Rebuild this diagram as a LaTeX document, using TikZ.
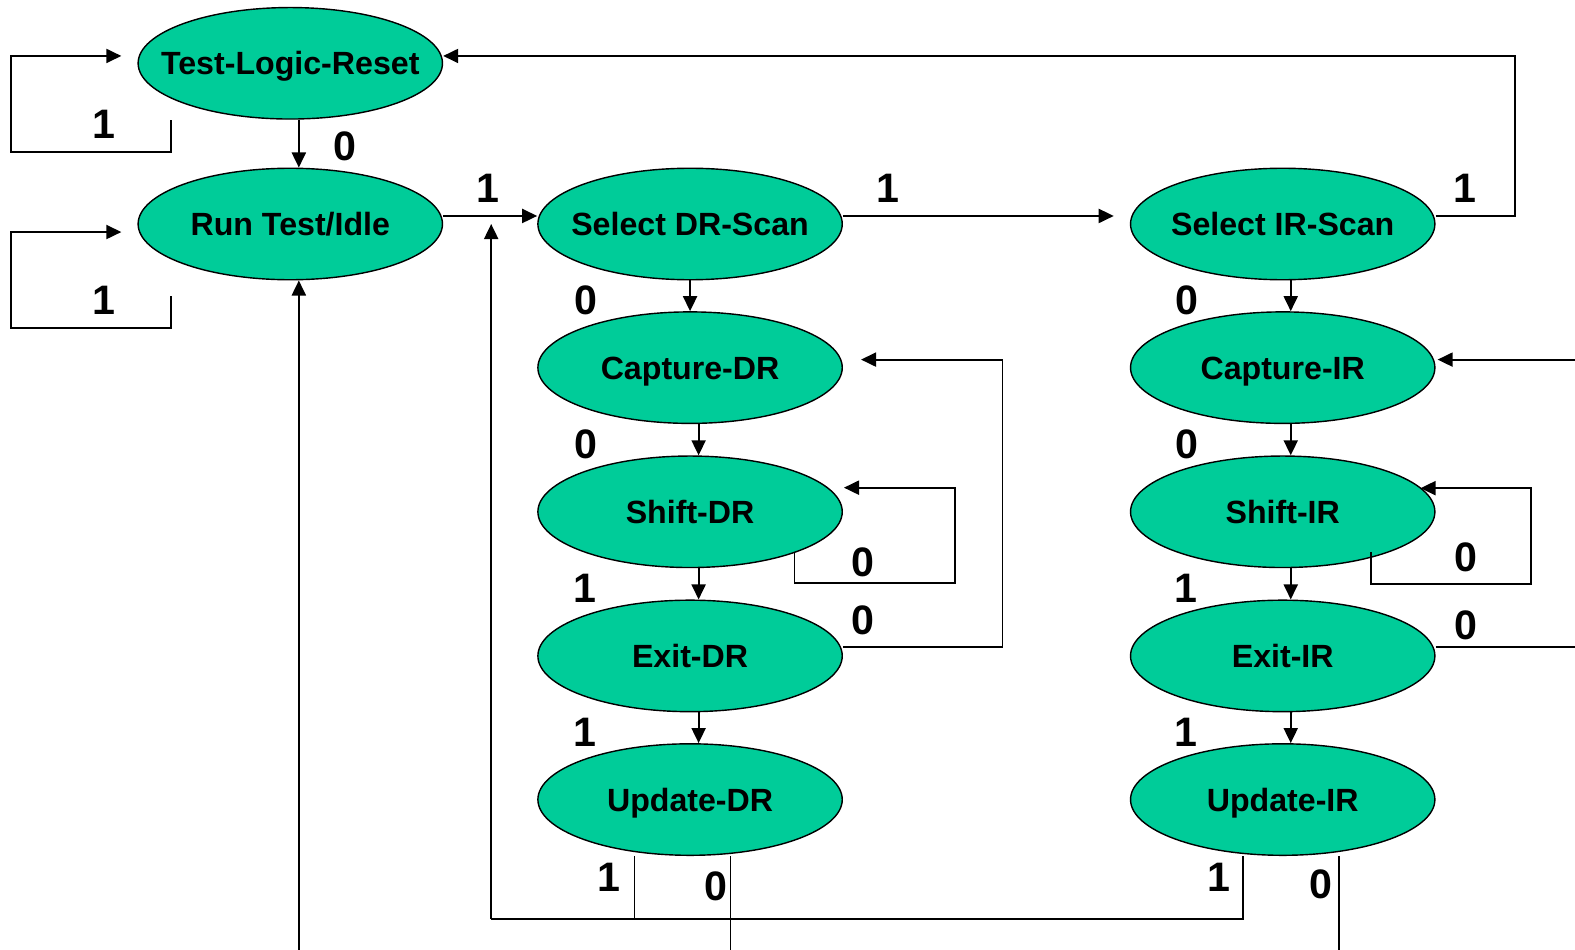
\documentclass[tikz,border=0pt]{standalone}
\usepackage{fontspec}
\setmainfont{Liberation Sans}
\usetikzlibrary{shapes.geometric,arrows.meta}
\definecolor{stategreen}{RGB}{0,204,153}
\newcommand{\statetext}[1]{\makebox[0pt]{#1}}
\begin{document}
\begin{tikzpicture}[x=1pt,y=-1pt,
  state/.style={ellipse,draw=black,line width=1.4pt,fill=stategreen,
    minimum width=303pt,minimum height=111pt,inner sep=0pt,
    text height=23pt,text depth=-2pt,
    font=\fontsize{32}{38}\selectfont\bfseries},
  lbl/.style={font=\fontsize{41}{48}\selectfont\bfseries,inner sep=0pt},
  wire/.style={line width=1.9pt},
  thinwire/.style={line width=1.3pt},
  arr/.style={wire,-{Triangle[length=15pt,width=14pt]}}]
\clip (0,0) rectangle (1568,945);
\fill[white] (0,0) rectangle (1568,945);

% states
\node[state] (tlr)  at (289,63)   {\statetext{Test-Logic-Reset}};
\node[state] (rti)  at (289,223)  {\statetext{Run Test/Idle}};
\node[state] (sdr)  at (687,223)  {\statetext{Select DR-Scan}};
\node[state] (cdr)  at (687,366)  {\statetext{Capture-DR}};
\node[state] (shdr) at (687,509.5){\statetext{Shift-DR}};
\node[state] (edr)  at (687,653)  {\statetext{Exit-DR}};
\node[state] (udr)  at (687,796)  {\statetext{Update-DR}};
\node[state] (sir)  at (1277,223) {\statetext{Select IR-Scan}};
\node[state] (cir)  at (1277,366) {\statetext{Capture-IR}};
\node[state] (shir) at (1277,509.5){\statetext{Shift-IR}};
\node[state] (eir)  at (1277,653) {\statetext{Exit-IR}};
\node[state] (uir)  at (1277,796) {\statetext{Update-IR}};

% loose ends of the connectors
\coordinate (tlrloop) at (170,119.5);
\coordinate (rtiloop) at (170,294.7);
\coordinate (shdrloop) at (791,550);
\coordinate (shirloop) at (1365,549.5);
\coordinate (rtibottom) at (297.5,950);
\coordinate (retjoin) at (489,915);
\coordinate (udrzero) at (727,950);
\coordinate (uirzero) at (1333,950);
\coordinate (eirout) at (1580,644);
\coordinate (cirin) at (1580,358);

% Test-Logic-Reset
\draw[arr] (tlrloop) -- (170,151) -- (11,151) -- (11,55.7) -- ([shift={(-16,-7.3)}]tlr.west);
\draw[arr] ([xshift=8.5pt]tlr.south) -- ([xshift=8.5pt]rti.north);

% Run Test/Idle
\draw[arr] (rtiloop) -- (170,326.2) -- (11,326.2) -- (11,231) -- ([shift={(-16,8)}]rti.west);
\draw[arr] ([shift={(0,-8)}]rti.east) -- ([shift={(0,-8)}]sdr.west);
\draw[arr] (rtibottom) -- (rti.south -| rtibottom);

% DR column
\draw[arr] ([shift={(0,-8)}]sdr.east) -- ([shift={(-16,-8)}]sir.west);
\draw[arr] (sdr.south) -- (cdr.north);
\draw[arr] ([xshift=8.5pt]cdr.south) -- ([xshift=8.5pt]shdr.north);
\draw[arr] ([xshift=8.5pt]shdr.south) -- ([xshift=8.5pt]edr.north);
\draw[arr] ([xshift=8.5pt]edr.south) -- ([xshift=8.5pt]udr.north);
\draw[arr] (shdrloop) -- (791,580.5) -- (951,580.5) -- (951,485.5) -- ([shift={(1,-24)}]shdr.east);
\draw[arr] ([shift={(0,-9)}]edr.east) -- (998,644) -- (998,358) -- ([shift={(18,-8)}]cdr.east);

% IR column
\draw[arr] ([shift={(0,-8)}]sir.east) -- (1508,215) -- (1508,55.7) -- ([shift={(0,-7.3)}]tlr.east);
\draw[arr] ([xshift=8pt]sir.south) -- ([xshift=8pt]cir.north);
\draw[arr] ([xshift=8pt]cir.south) -- ([xshift=8pt]shir.north);
\draw[arr] ([xshift=8pt]shir.south) -- ([xshift=8pt]eir.north);
\draw[arr] ([xshift=8pt]eir.south) -- ([xshift=8pt]uir.north);
\draw[arr] (shirloop) -- (1365,581) -- (1524,581) -- (1524,486) -- ([shift={(-15,-23.5)}]shir.east);
\draw[wire] ([shift={(0,-9)}]eir.east) -- (eirout);
\draw[arr] (cirin) -- ([shift={(2,-8)}]cir.east);

% Update states
\draw[arr] (retjoin) -- (rti.east -| retjoin);
\draw[thinwire] (632,852) -- (632,915);
\draw[thinwire] (727,852) -- (udrzero);
\draw[wire] (retjoin) -- (1237.5,915) -- (1237.5,852);
\draw[thinwire] (1333,852) -- (uirzero);

% transition labels
\node[lbl] (l1) at (103.7,123.5) {1};
\node[lbl] (l2) at (343,146) {0};
\node[lbl] (l3) at (103.7,298.7) {1};
\node[lbl] (l4) at (486,187) {1};
\node[lbl] (l5) at (884,187) {1};
\node[lbl] (l6) at (1458,187) {1};
\node[lbl] (l7) at (583,299) {0};
\node[lbl] (l8) at (583,442) {0};
\node[lbl] (l9) at (582,586) {1};
\node[lbl] (l10) at (582,729) {1};
\node[lbl] (l11) at (859,560) {0};
\node[lbl] (l12) at (859,618) {0};
\node[lbl] (l13) at (1182,299) {0};
\node[lbl] (l14) at (1182,442) {0};
\node[lbl] (l15) at (1181,586) {1};
\node[lbl] (l16) at (1181,729) {1};
\node[lbl] (l17) at (1459,555) {0};
\node[lbl] (l18) at (1459,623) {0};
\node[lbl] (l19) at (606,873) {1};
\node[lbl] (l20) at (713,882) {0};
\node[lbl] (l21) at (1214,873) {1};
\node[lbl] (l22) at (1315,880) {0};
\end{tikzpicture}
\end{document}
